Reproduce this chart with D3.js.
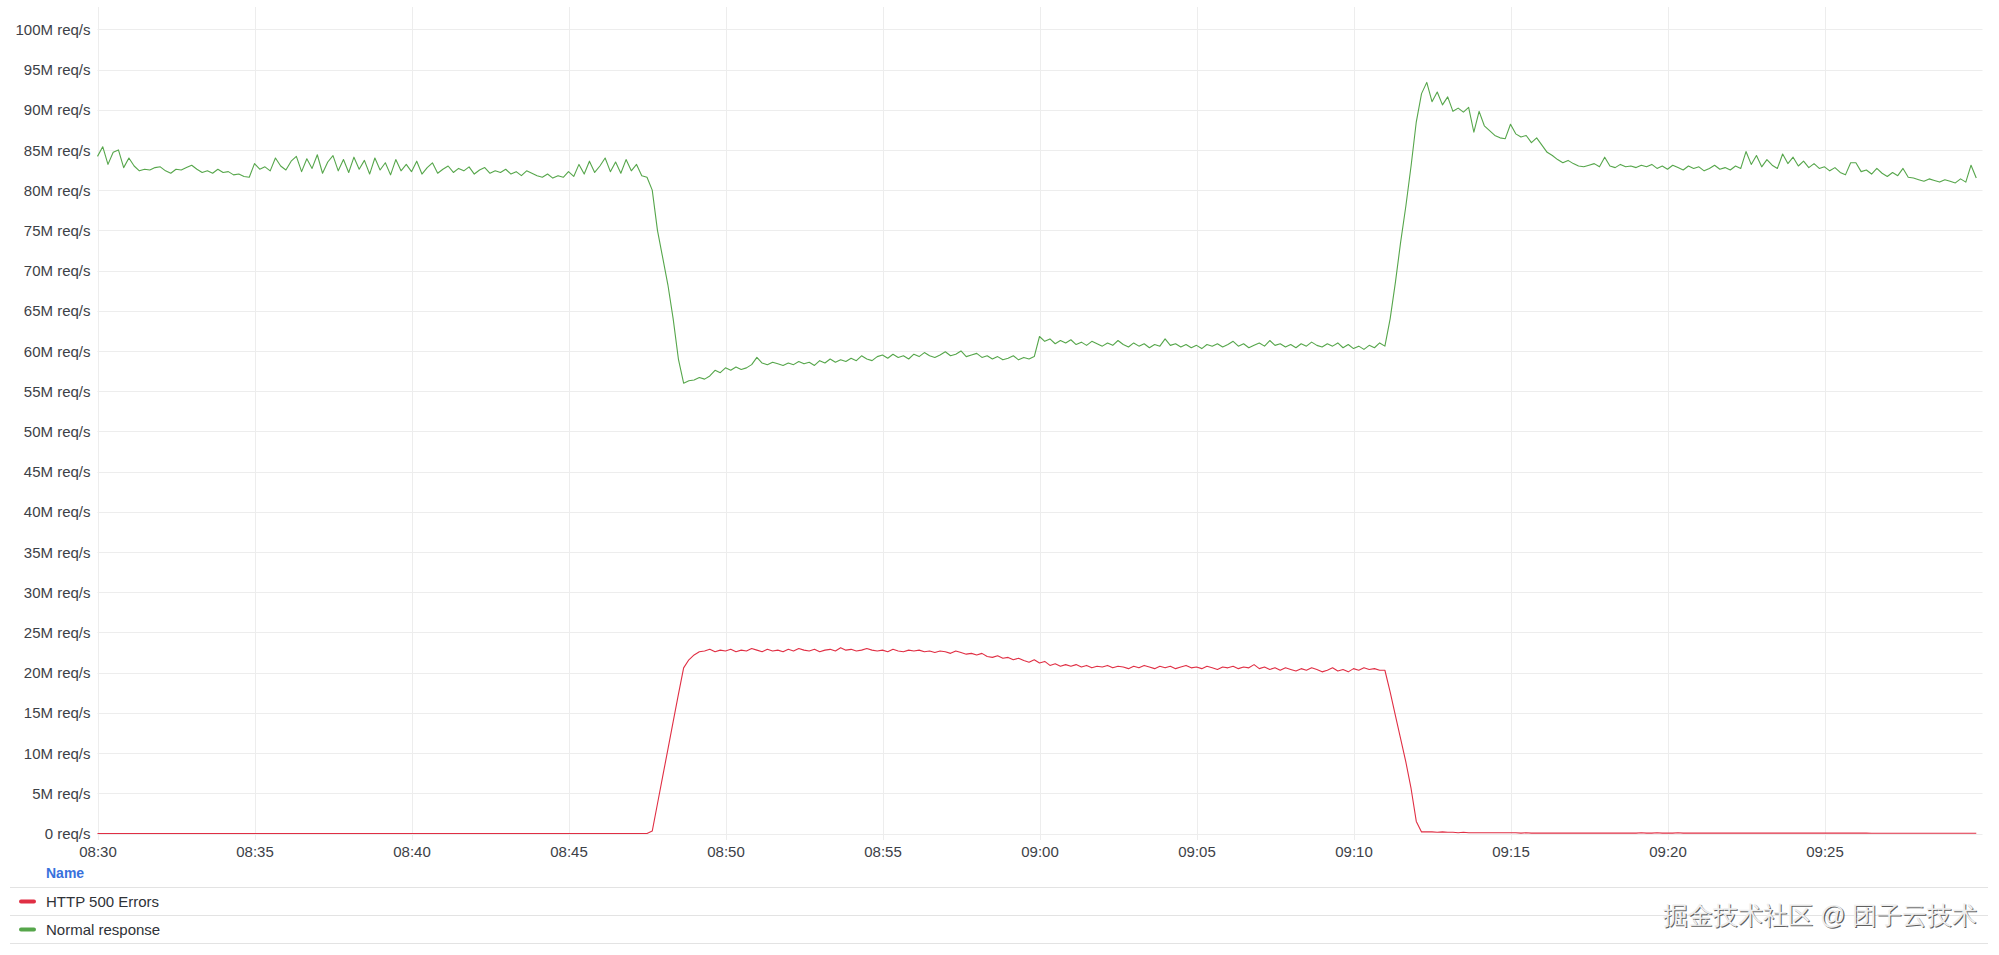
<!DOCTYPE html>
<html>
<head>
<meta charset="utf-8">
<script src="https://cdn.jsdelivr.net/npm/d3@7"></script>
<style>
  html, body { margin: 0; padding: 0; background: #ffffff; }
  svg { display: block; }
  text { font-family: "Liberation Sans", Arial, Helvetica, sans-serif; }
</style>
</head>
<body>
<svg id="chart" width="1999" height="955"></svg>
<script>
// ---------------- DATA ----------------
const startTime = "2024-01-01T08:30:00";
const endTime = "2024-01-01T09:30:00";
const stepSeconds = 10;

const seriesNames = ["HTTP 500 Errors", "Normal response"];
const seriesColors = ["#E02F44", "#56A64B"];

// Normal response, req/s in millions, one value every 10 s from 08:30
const normalResponse = [
  84.2, 85.4, 83.2, 84.7, 85.0, 82.8,
  84.0, 83.0, 82.4, 82.6, 82.5, 82.8,
  82.9, 82.4, 82.1, 82.6, 82.5, 82.8,
  83.1, 82.6, 82.2, 82.4, 82.1, 82.6,
  82.2, 82.3, 81.9, 82.0, 81.7, 81.6,
  83.3, 82.6, 82.9, 82.4, 84.0, 83.0,
  82.5, 83.6, 84.2, 82.3, 83.9, 82.7,
  84.4, 82.1, 83.5, 84.3, 82.4, 83.8,
  82.2, 84.1, 82.6, 83.7, 82.0, 84.0,
  82.5, 83.4, 81.9, 83.8, 82.4, 83.2,
  82.3, 83.6, 82.0, 82.8, 83.4, 82.1,
  82.6, 83.0, 82.2, 82.7, 82.4, 82.9,
  82.0, 82.5, 82.8, 82.1, 82.4, 82.2,
  82.6, 82.0, 82.3, 81.8, 82.4, 82.1,
  81.8, 81.6, 82.0, 81.5, 81.8, 81.6,
  82.3, 81.7, 83.2, 82.0, 83.6, 82.2,
  83.0, 84.0, 82.3, 83.5, 82.1, 83.8,
  82.4, 83.2, 81.8, 81.6, 80.0, 75.0,
  71.6, 68.2, 64.0, 59.0, 56.0, 56.3,
  56.4, 56.7, 56.5, 56.9, 57.6, 57.3,
  57.9, 57.6, 58.0, 57.7, 57.9, 58.3,
  59.2, 58.5, 58.3, 58.6, 58.4, 58.2,
  58.5, 58.3, 58.7, 58.4, 58.6, 58.2,
  58.8, 58.5, 59.0, 58.6, 58.9, 58.7,
  59.1, 58.8, 59.4, 59.0, 58.8, 59.3,
  59.5, 59.1, 59.6, 59.2, 59.4, 59.0,
  59.6, 59.3, 59.8, 59.4, 59.2, 59.5,
  59.9, 59.4, 59.6, 60.0, 59.3, 59.5,
  59.7, 59.2, 59.4, 59.0, 59.3, 58.9,
  59.1, 59.4, 58.9, 59.2, 59.0, 59.3,
  61.8, 61.2, 61.5, 60.9, 61.3, 61.0,
  61.4, 60.8, 61.1, 60.7, 61.2, 60.9,
  60.6, 61.0, 60.7, 61.3, 60.8, 60.5,
  61.0, 60.6, 60.9, 60.4, 60.8, 60.6,
  61.5, 60.7, 60.9, 60.5, 60.8, 60.4,
  60.7, 60.3, 60.8, 60.6, 60.9, 60.5,
  60.8, 61.2, 60.6, 60.9, 60.4, 60.7,
  61.0, 60.6, 61.3, 60.7, 60.9, 60.5,
  60.8, 60.4, 60.9, 60.6, 61.1, 60.7,
  60.5, 60.9, 60.6, 61.0, 60.4, 60.8,
  60.3, 60.6, 60.2, 60.7, 60.4, 61.0,
  60.6, 64.0, 68.5, 73.5, 78.0, 83.0,
  88.5, 92.0, 93.4, 91.0, 92.2, 90.6,
  91.6, 89.8, 90.2, 89.7, 90.3, 87.2,
  89.8, 88.0, 87.4, 86.8, 86.5, 86.4,
  88.2, 87.0, 86.6, 86.8, 85.9, 86.5,
  85.6, 84.7, 84.3, 83.8, 83.4, 83.7,
  83.3, 83.0, 82.9, 83.1, 83.3, 82.9,
  84.1, 83.0, 82.8, 83.2, 82.9, 83.0,
  82.8, 83.1, 82.9, 83.2, 82.7, 83.0,
  82.6, 83.1, 82.8, 82.5, 83.0, 82.7,
  82.9, 82.4, 82.7, 83.1, 82.6, 82.8,
  82.5, 83.0, 82.7, 84.8, 83.2, 84.3,
  82.9, 83.8, 83.1, 82.7, 84.5, 83.3,
  84.1, 83.0, 83.6, 82.8, 83.3, 82.7,
  82.9, 82.4, 82.8, 82.2, 81.9, 83.4,
  83.4, 82.3, 82.5, 82.0, 82.7, 82.1,
  81.7, 82.2, 81.8, 82.7, 81.6, 81.5,
  81.3, 81.1, 81.4, 81.2, 81.0, 81.3,
  81.1, 80.9, 81.4, 81.0, 83.1, 81.5
];

// HTTP 500 Errors, req/s in millions, one value every 10 s from 08:30
const http500Errors = [
  0,0,0,0,0,0, 0,0,0,0,0,0, 0,0,0,0,0,0, 0,0,0,0,0,0,
  0,0,0,0,0,0, 0,0,0,0,0,0, 0,0,0,0,0,0, 0,0,0,0,0,0,
  0,0,0,0,0,0, 0,0,0,0,0,0, 0,0,0,0,0,0, 0,0,0,0,0,0,
  0,0,0,0,0,0, 0,0,0,0,0,0, 0,0,0,0,0,0, 0,0,0,0,0,0,
  0,0,0,0,0,0,
  0, 0, 0, 0, 0.3, 3.7,
  7.1, 10.5, 13.9, 17.3, 20.6, 21.6,
  22.2, 22.6, 22.7, 22.9, 22.6, 22.8,
  22.7, 22.9, 22.6, 22.8, 22.7, 23.0,
  22.8, 22.6, 22.9, 22.7, 22.8, 22.6,
  22.9, 22.7, 23.0, 22.8, 22.7, 22.9,
  22.6, 22.8, 22.9, 22.7, 23.1, 22.8,
  22.9, 22.7, 22.8, 23.0, 22.8, 22.7,
  22.8, 22.6, 22.9, 22.7, 22.6, 22.8,
  22.7, 22.8, 22.6, 22.7, 22.5, 22.7,
  22.6, 22.4, 22.7, 22.5, 22.3, 22.4,
  22.2, 22.4, 22.0, 21.9, 22.1, 21.8,
  21.9, 21.6, 21.8, 21.5, 21.3, 21.6,
  21.2, 21.4, 20.9, 21.1, 20.8, 21.0,
  20.8, 21.0, 20.7, 20.9, 20.6, 20.8,
  20.7, 20.9, 20.6, 20.8, 20.7, 20.5,
  20.8, 20.6, 20.9, 20.7, 20.5, 20.8,
  20.6, 20.8, 20.5, 20.7, 20.9, 20.6,
  20.7, 20.5, 20.8, 20.6, 20.4, 20.7,
  20.6, 20.8, 20.5, 20.7, 20.6, 21.0,
  20.5, 20.7, 20.4, 20.6, 20.3, 20.6,
  20.4, 20.2, 20.5, 20.3, 20.6, 20.4,
  20.1, 20.3, 20.6, 20.2, 20.4, 20.1,
  20.5, 20.3, 20.6, 20.4, 20.5, 20.3,
  20.3, 17.6, 14.7, 11.8, 8.9, 5.6,
  1.5, 0.2, 0.2, 0.2, 0.15, 0.2,
  0.15, 0.15, 0.1, 0.15, 0.1, 0.1,
  0.1, 0.1, 0.1, 0.1, 0.1, 0.1,
  0.1, 0.1, 0.05, 0.1, 0.05, 0.05,
  0.05, 0.05, 0.05, 0.05, 0.05, 0.05,
  0.05, 0.05, 0.05, 0.05, 0.05, 0.05,
  0.05, 0.05, 0.05, 0.05, 0.05, 0.05,
  0.05, 0.1, 0.05, 0.05, 0.1, 0.05,
  0.05, 0.05, 0.1, 0.05, 0.05, 0.05,
  0.05, 0.05, 0.05, 0.05, 0.05, 0.05,
  0.05, 0.05, 0.05, 0.05, 0.05, 0.05,
  0.05, 0.05, 0.05, 0.05, 0.05, 0.05,
  0.05, 0.05, 0.05, 0.05, 0.05, 0.05,
  0.05, 0.05, 0.05, 0.05, 0.05, 0.05,
  0.05, 0.05, 0.05, 0.04, 0.04, 0.04,
  0.04, 0.03, 0.03, 0.03, 0.03, 0.03,
  0.03, 0.03, 0.03, 0.03, 0.03, 0.03,
  0.03, 0.03, 0.03, 0.03, 0.03, 0.03
];

const yTickValues = [0, 5, 10, 15, 20, 25, 30, 35, 40, 45, 50, 55, 60, 65, 70, 75, 80, 85, 90, 95, 100];
const xTickLabels = ["08:30", "08:35", "08:40", "08:45", "08:50", "08:55", "09:00", "09:05", "09:10", "09:15", "09:20", "09:25"];
const legendHeader = "Name";
const watermark = "掘金技术社区 @ 团子云技术";

// ---------------- DRAW ----------------
const svg = d3.select("#chart");
const plot = { left: 97.5, right: 1981.5, top: 29.3, bottom: 833.5 };

const t0 = new Date(startTime);
const x = d3.scaleTime()
  .domain([t0, new Date(endTime)])
  .range([plot.left, plot.right]);
const y = d3.scaleLinear()
  .domain([0, 100])
  .range([plot.bottom, plot.top]);

const parseHM = s => {
  const [h, m] = s.split(":").map(Number);
  const d = new Date(t0); d.setHours(h, m, 0, 0); return d;
};
const xTickDates = xTickLabels.map(parseHM);

// grid
const grid = svg.append("g").attr("class", "grid");
grid.selectAll("line.h").data(yTickValues).join("line")
  .attr("x1", plot.left).attr("x2", plot.right + 1)
  .attr("y1", d => Math.round(y(d)) + 0.5).attr("y2", d => Math.round(y(d)) + 0.5)
  .attr("stroke", "#ededed").attr("stroke-width", 1);
grid.selectAll("line.v").data(xTickDates).join("line")
  .attr("x1", d => Math.round(x(d)) + 0.5).attr("x2", d => Math.round(x(d)) + 0.5)
  .attr("y1", 7).attr("y2", 840)
  .attr("stroke", "#ededed").attr("stroke-width", 1);

// axes
const yAxis = d3.axisLeft(y)
  .tickValues(yTickValues)
  .tickSize(0).tickPadding(0)
  .tickFormat(d => d === 0 ? "0 req/s" : d + "M req/s");
const gy = svg.append("g").attr("transform", `translate(${plot.left - 7},0)`).call(yAxis);
gy.select(".domain").remove();
gy.selectAll("text").attr("font-size", 15).attr("fill", "#3d4147")
  .attr("font-family", "Liberation Sans, Arial, sans-serif").attr("dy", "0.34em");

const xAxis = d3.axisBottom(x)
  .tickValues(xTickDates)
  .tickSize(0).tickPadding(0)
  .tickFormat((d, i) => xTickLabels[i]);
const gx = svg.append("g").attr("transform", `translate(0,${plot.bottom + 18})`).call(xAxis);
gx.select(".domain").remove();
gx.selectAll("text").attr("font-size", 15).attr("fill", "#3d4147")
  .attr("font-family", "Liberation Sans, Arial, sans-serif").attr("dy", "0.34em");

// series
const toPoints = arr => arr.map((v, i) => ({ t: new Date(t0.getTime() + i * stepSeconds * 1000), v }));
const line = d3.line().x(d => x(d.t)).y(d => y(d.v));
const seriesData = [http500Errors, normalResponse];
svg.append("g").selectAll("path").data(seriesData).join("path")
  .attr("d", d => line(toPoints(d)))
  .attr("fill", "none")
  .attr("stroke", (d, i) => seriesColors[i])
  .attr("stroke-width", 1.1)
  .attr("stroke-linejoin", "round");

// legend
const lg = svg.append("g");
lg.append("text").attr("x", 46).attr("y", 873).attr("dy", "0.35em")
  .attr("font-size", 14).attr("font-weight", "bold").attr("fill", "#3871dc").text(legendHeader);
const sepY = [887.5, 915.5, 943.5];
lg.selectAll("line.sep").data(sepY).join("line")
  .attr("x1", 10).attr("x2", 1988).attr("y1", d => d).attr("y2", d => d)
  .attr("stroke", "#e3e3e3").attr("stroke-width", 1);
const rowY = [901.5, 929.5];
const rows = lg.selectAll("g.row").data(seriesNames).join("g")
  .attr("transform", (d, i) => `translate(0,${rowY[i]})`);
rows.append("rect").attr("x", 19).attr("y", -2).attr("width", 17).attr("height", 4).attr("rx", 2)
  .attr("fill", (d, i) => seriesColors[i]);
rows.append("text").attr("x", 46).attr("dy", "0.35em").attr("font-size", 15)
  .attr("fill", "#2f3237").text(d => d);

// watermark
const wm = svg.append("g").attr("font-family", "Noto Sans CJK SC, sans-serif").attr("font-size", 25);
wm.append("text").attr("x", 1664.2).attr("y", 916.2).attr("dy", "0.35em").attr("fill", "#2a2a2a").attr("opacity", 0.75).text(watermark);
wm.append("text").attr("x", 1663).attr("y", 915).attr("dy", "0.35em").attr("fill", "#eeeeee").text(watermark);
</script>
</body>
</html>
